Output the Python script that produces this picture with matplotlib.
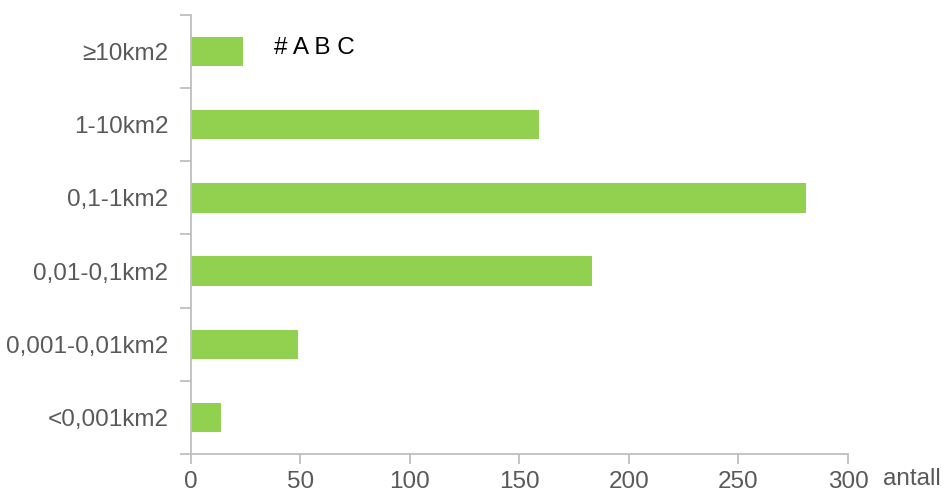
import matplotlib.pyplot as plt
import numpy as np

# categories bottom -> top
categories = ["<0,001km2", "0,001-0,01km2", "0,01-0,1km2", "0,1-1km2", "1-10km2", "≥10km2"]
counts = [14, 49, 183, 281, 159, 24]
xticks = [0, 50, 100, 150, 200, 250, 300]

plt.rcParams['font.family'] = ['Liberation Sans', 'DejaVu Sans']

fig = plt.figure(figsize=(9.45, 4.93), dpi=100)
ax = fig.add_axes([0.2016, 0.0791, 0.8974 - 0.2016, 0.9696 - 0.0791])

y = np.arange(len(categories))
ax.barh(y, counts, height=0.4, color="#92D050")

ax.set_xlim(0, 300)
ax.set_ylim(-0.5, len(categories) - 0.5)
ax.set_xticks(xticks)
ax.set_yticks(y)
ax.set_yticklabels(categories)
ax.set_yticks(np.arange(-0.5, len(categories), 1), minor=True)

grey = "#BFBFBF"
txt = "#595959"
fs = 17.5
for s in ["top", "right"]:
    ax.spines[s].set_visible(False)
for s in ["left", "bottom"]:
    ax.spines[s].set_color(grey)
    ax.spines[s].set_linewidth(1.3)

ax.tick_params(axis="y", which="major", length=0, pad=16, labelsize=fs, labelcolor=txt)
ax.tick_params(axis="y", which="minor", length=8, width=1.3, color=grey)
ax.tick_params(axis="x", which="major", length=7, width=1.3, color=grey, pad=5, labelsize=fs, labelcolor=txt)

ax.text(38, 5.05, "# A B C", fontsize=fs, color="black", va="center", ha="left")
ax.text(1.053, -0.032, "antall", transform=ax.transAxes, fontsize=fs, color=txt,
        va="top", ha="left")

fig.savefig("out.png", dpi=100)
